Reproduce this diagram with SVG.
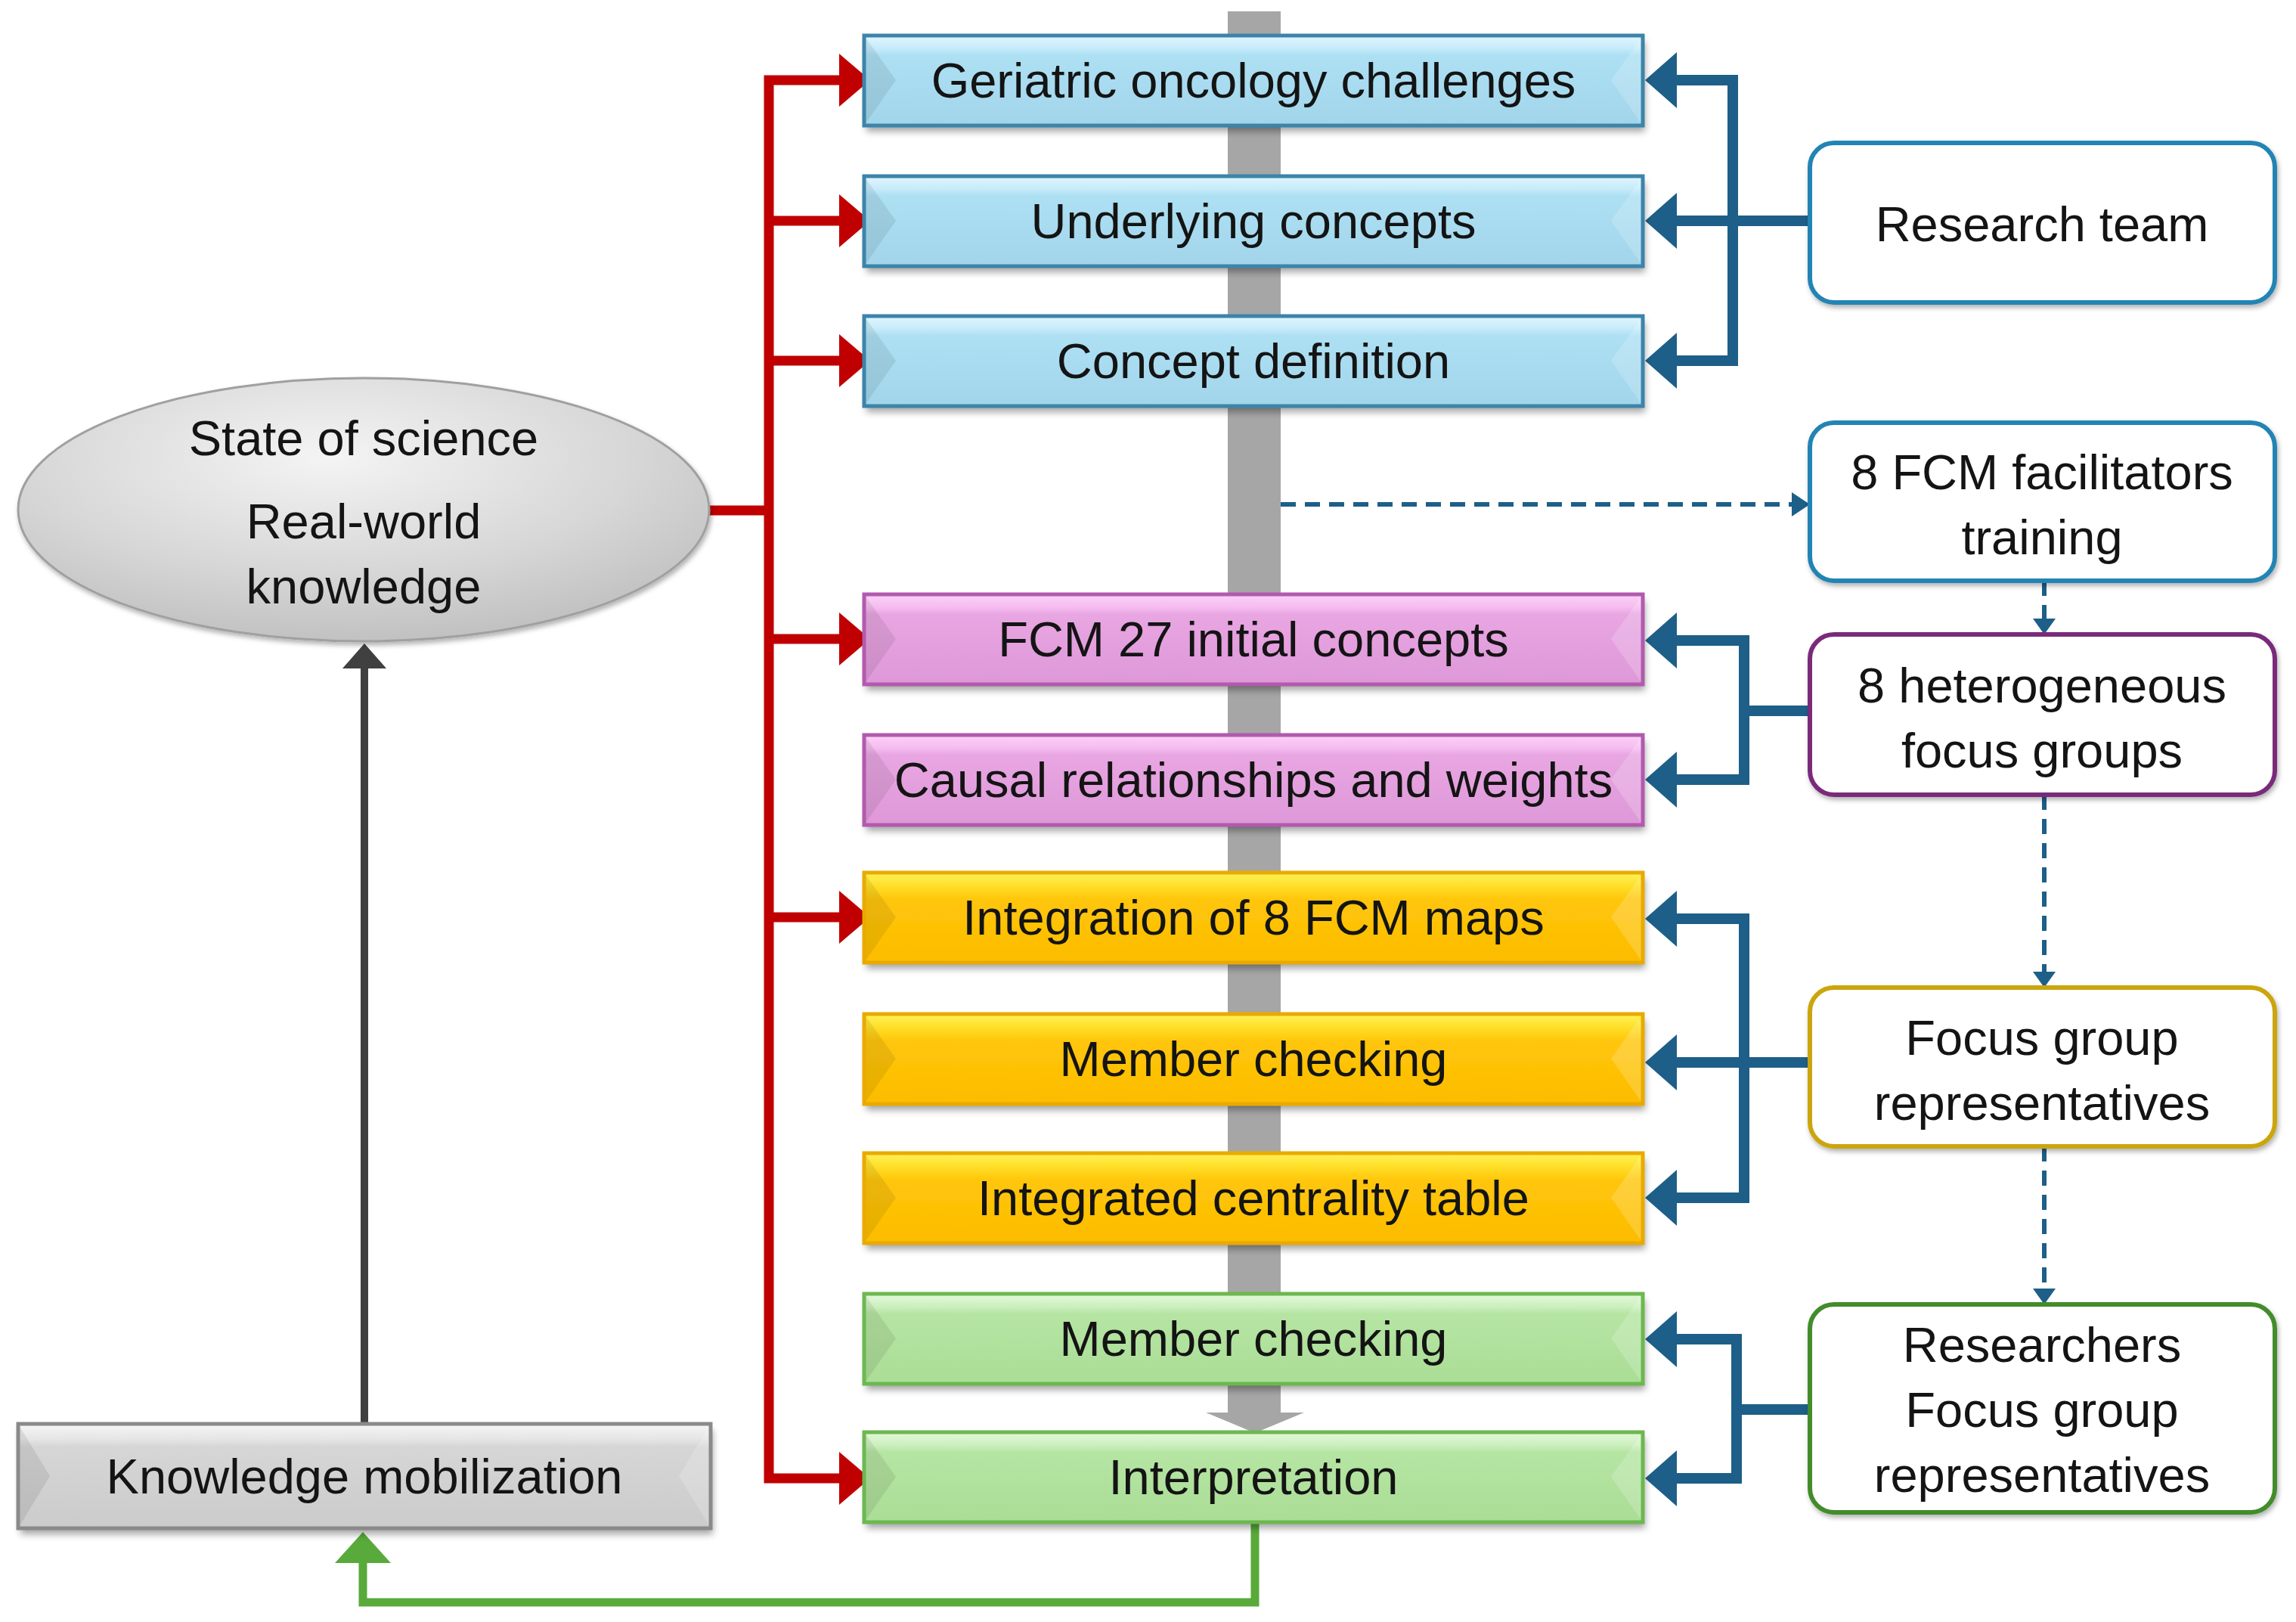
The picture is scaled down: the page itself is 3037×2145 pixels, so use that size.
<svg xmlns="http://www.w3.org/2000/svg" width="3037" height="2145" viewBox="0 0 3037 2145">
<defs>
<style>
text{font-family:"Liberation Sans",Arial,sans-serif;font-size:65px;fill:#141414;text-anchor:middle}
.edge{fill:none;stroke-width:5}
.lb{fill:#000;fill-opacity:.08}
.rb{fill:#fff;fill-opacity:.18}
.blue .body{fill:url(#gBlue)} .blue .edge{stroke:#3c84aa}
.pink .body{fill:url(#gPink)} .pink .edge{stroke:#b25aae}
.yel .body{fill:url(#gYel)} .yel .edge{stroke:#e9aa00}
.grn .body{fill:url(#gGrn)} .grn .edge{stroke:#6cb850}
.gry .body{fill:url(#gGry)} .gry .edge{stroke:#8a8a8a}
.rbox{fill:#fff;stroke-width:6}
.red{fill:none;stroke:#c00000;stroke-width:13}
.redh{fill:#c00000}
.teal{fill:none;stroke:#1d5f88;stroke-width:14}
.tealh{fill:#1d5f88}
.dash{fill:none;stroke:#1d5f88;stroke-width:6;stroke-dasharray:20 12}
</style>
<linearGradient id="gBlue" x1="0" y1="0" x2="0" y2="1">
<stop offset="0" stop-color="#e2f6fe"/><stop offset=".14" stop-color="#c6ebfa"/><stop offset=".22" stop-color="#ade0f3"/><stop offset="1" stop-color="#a2d5ea"/></linearGradient>
<linearGradient id="gPink" x1="0" y1="0" x2="0" y2="1">
<stop offset="0" stop-color="#fbd2f8"/><stop offset=".14" stop-color="#f6bdf0"/><stop offset=".22" stop-color="#e8a6e2"/><stop offset="1" stop-color="#de98d8"/></linearGradient>
<linearGradient id="gYel" x1="0" y1="0" x2="0" y2="1">
<stop offset="0" stop-color="#fff25a"/><stop offset=".14" stop-color="#ffe02a"/><stop offset=".3" stop-color="#ffc60a"/><stop offset="1" stop-color="#fcbc00"/></linearGradient>
<linearGradient id="gGrn" x1="0" y1="0" x2="0" y2="1">
<stop offset="0" stop-color="#e4f8da"/><stop offset=".14" stop-color="#cdf0bf"/><stop offset=".22" stop-color="#b6e5a3"/><stop offset="1" stop-color="#aadd96"/></linearGradient>
<linearGradient id="gGry" x1="0" y1="0" x2="0" y2="1">
<stop offset="0" stop-color="#f6f6f6"/><stop offset=".14" stop-color="#e6e6e6"/><stop offset=".22" stop-color="#d6d6d6"/><stop offset="1" stop-color="#cbcbcb"/></linearGradient>
<radialGradient id="gEll" cx=".45" cy=".3" r=".75">
<stop offset="0" stop-color="#f4f4f4"/><stop offset=".6" stop-color="#d6d6d6"/><stop offset="1" stop-color="#bdbdbd"/></radialGradient>
<filter id="sh" x="-5%" y="-20%" width="110%" height="150%">
<feDropShadow dx="3" dy="8" stdDeviation="5" flood-color="#000" flood-opacity=".35"/></filter>
<filter id="sh2" x="-5%" y="-10%" width="110%" height="130%">
<feDropShadow dx="2" dy="4" stdDeviation="3" flood-color="#000" flood-opacity=".3"/></filter>
</defs>
<rect width="3037" height="2145" fill="#fff"/>

<g id="spine">
<rect x="1624" y="15" width="70" height="1853" fill="#a6a6a6"/>
<polygon points="1595,1868 1725,1868 1660,1895" fill="#a6a6a6"/>
</g>

<g id="connectors">
<path class="red" d="M1112,106 H1017 V1955 H1112 M1017,292 H1112 M1017,477 H1112 M1017,845 H1112 M1017,1213 H1112 M938,675 H1017"/>
<polygon class="redh" points="1110,71 1151,106 1110,141"/>
<polygon class="redh" points="1110,257 1151,292 1110,327"/>
<polygon class="redh" points="1110,442 1151,477 1110,512"/>
<polygon class="redh" points="1110,810 1151,845 1110,880"/>
<polygon class="redh" points="1110,1178 1151,1213 1110,1248"/>
<polygon class="redh" points="1110,1920 1151,1955 1110,1990"/>

<path class="teal" d="M2215,106 H2292 V477 H2215 M2215,292 H2394"/>
<polygon class="tealh" points="2218,69 2176,106 2218,143"/>
<polygon class="tealh" points="2218,255 2176,292 2218,329"/>
<polygon class="tealh" points="2218,440 2176,477 2218,514"/>

<path class="teal" d="M2215,847 H2307 V1031 H2215 M2307,940 H2394"/>
<polygon class="tealh" points="2218,810 2176,847 2218,884"/>
<polygon class="tealh" points="2218,994 2176,1031 2218,1068"/>

<path class="teal" d="M2215,1215 H2307 V1584 H2215 M2215,1405 H2394"/>
<polygon class="tealh" points="2218,1178 2176,1215 2218,1252"/>
<polygon class="tealh" points="2218,1368 2176,1405 2218,1442"/>
<polygon class="tealh" points="2218,1547 2176,1584 2218,1621"/>

<path class="teal" d="M2215,1771 H2297 V1955 H2215 M2297,1864 H2394"/>
<polygon class="tealh" points="2218,1734 2176,1771 2218,1808"/>
<polygon class="tealh" points="2218,1918 2176,1955 2218,1992"/>

<path class="dash" d="M1694,667 H2372"/>
<polygon class="tealh" points="2370,651 2394,667 2370,683"/>
<path class="dash" d="M2704,768 V820"/>
<polygon class="tealh" points="2689,818 2719,818 2704,839"/>
<path class="dash" d="M2704,1051 V1287"/>
<polygon class="tealh" points="2689,1285 2719,1285 2704,1306"/>
<path class="dash" d="M2704,1516 V1706"/>
<polygon class="tealh" points="2689,1704 2719,1704 2704,1725"/>

<path d="M482,1883 V878" fill="none" stroke="#404040" stroke-width="10"/>
<polygon points="453,884 482,851 511,884" fill="#404040"/>

<path d="M1660,2012 V2119 H480 V2064" fill="none" stroke="#58aa3a" stroke-width="11"/>
<polygon points="443,2067 480,2026 517,2067" fill="#58aa3a"/>
</g>

<g id="n-state">
<ellipse cx="481" cy="674" rx="457" ry="174" fill="url(#gEll)" stroke="#a0a0a0" stroke-width="3" filter="url(#sh2)"/>
<text x="481" y="602">State of science</text>
<text x="481" y="712">Real-world</text>
<text x="481" y="798">knowledge</text>
</g>

<g id="n-km" class="gry">
<rect class="body" x="24" y="1883" width="916" height="138" filter="url(#sh)"/>
<polygon class="lb" points="24,1883 66,1952 24,2021"/>
<polygon class="rb" points="940,1883 898,1952 940,2021"/>
<rect class="edge" x="24" y="1883" width="916" height="138"/>
<text x="482" y="1975">Knowledge mobilization</text>
</g>

<g id="n1" class="blue">
<rect class="body" x="1143" y="47" width="1030" height="119" filter="url(#sh)"/>
<polygon class="lb" points="1143,47 1185,106 1143,166"/>
<polygon class="rb" points="2173,47 2131,106 2173,166"/>
<rect class="edge" x="1143" y="47" width="1030" height="119"/>
<text x="1658" y="129">Geriatric oncology challenges</text>
</g>
<g id="n2" class="blue">
<rect class="body" x="1143" y="233" width="1030" height="119" filter="url(#sh)"/>
<polygon class="lb" points="1143,233 1185,292 1143,352"/>
<polygon class="rb" points="2173,233 2131,292 2173,352"/>
<rect class="edge" x="1143" y="233" width="1030" height="119"/>
<text x="1658" y="315">Underlying concepts</text>
</g>
<g id="n3" class="blue">
<rect class="body" x="1143" y="418" width="1030" height="119" filter="url(#sh)"/>
<polygon class="lb" points="1143,418 1185,477 1143,537"/>
<polygon class="rb" points="2173,418 2131,477 2173,537"/>
<rect class="edge" x="1143" y="418" width="1030" height="119"/>
<text x="1658" y="500">Concept definition</text>
</g>
<g id="n4" class="pink">
<rect class="body" x="1143" y="786" width="1030" height="119" filter="url(#sh)"/>
<polygon class="lb" points="1143,786 1185,845 1143,905"/>
<polygon class="rb" points="2173,786 2131,845 2173,905"/>
<rect class="edge" x="1143" y="786" width="1030" height="119"/>
<text x="1658" y="868">FCM 27 initial concepts</text>
</g>
<g id="n5" class="pink">
<rect class="body" x="1143" y="972" width="1030" height="119" filter="url(#sh)"/>
<polygon class="lb" points="1143,972 1185,1031 1143,1091"/>
<polygon class="rb" points="2173,972 2131,1031 2173,1091"/>
<rect class="edge" x="1143" y="972" width="1030" height="119"/>
<text x="1658" y="1054">Causal relationships and weights</text>
</g>
<g id="n6" class="yel">
<rect class="body" x="1143" y="1154" width="1030" height="119" filter="url(#sh)"/>
<polygon class="lb" points="1143,1154 1185,1213 1143,1273"/>
<polygon class="rb" points="2173,1154 2131,1213 2173,1273"/>
<rect class="edge" x="1143" y="1154" width="1030" height="119"/>
<text x="1658" y="1236">Integration of 8 FCM maps</text>
</g>
<g id="n7" class="yel">
<rect class="body" x="1143" y="1341" width="1030" height="119" filter="url(#sh)"/>
<polygon class="lb" points="1143,1341 1185,1400 1143,1460"/>
<polygon class="rb" points="2173,1341 2131,1400 2173,1460"/>
<rect class="edge" x="1143" y="1341" width="1030" height="119"/>
<text x="1658" y="1423">Member checking</text>
</g>
<g id="n8" class="yel">
<rect class="body" x="1143" y="1525" width="1030" height="119" filter="url(#sh)"/>
<polygon class="lb" points="1143,1525 1185,1584 1143,1644"/>
<polygon class="rb" points="2173,1525 2131,1584 2173,1644"/>
<rect class="edge" x="1143" y="1525" width="1030" height="119"/>
<text x="1658" y="1607">Integrated centrality table</text>
</g>
<g id="n9" class="grn">
<rect class="body" x="1143" y="1711" width="1030" height="119" filter="url(#sh)"/>
<polygon class="lb" points="1143,1711 1185,1770 1143,1830"/>
<polygon class="rb" points="2173,1711 2131,1770 2173,1830"/>
<rect class="edge" x="1143" y="1711" width="1030" height="119"/>
<text x="1658" y="1793">Member checking</text>
</g>
<g id="n10" class="grn">
<rect class="body" x="1143" y="1894" width="1030" height="119" filter="url(#sh)"/>
<polygon class="lb" points="1143,1894 1185,1953 1143,2013"/>
<polygon class="rb" points="2173,1894 2131,1953 2173,2013"/>
<rect class="edge" x="1143" y="1894" width="1030" height="119"/>
<text x="1658" y="1976">Interpretation</text>
</g>

<g id="r-team">
<rect class="rbox" x="2394" y="189" width="615" height="211" rx="32" stroke="#2384b4" filter="url(#sh2)"/>
<text x="2701" y="319">Research team</text>
</g>
<g id="r-train">
<rect class="rbox" x="2394" y="559" width="615" height="209" rx="32" stroke="#2384b4" filter="url(#sh2)"/>
<text x="2701" y="647">8 FCM facilitators</text>
<text x="2701" y="733">training</text>
</g>
<g id="r-fg">
<rect class="rbox" x="2394" y="839" width="615" height="212" rx="32" stroke="#7a2a7a" filter="url(#sh2)"/>
<text x="2701" y="929">8 heterogeneous</text>
<text x="2701" y="1015">focus groups</text>
</g>
<g id="r-rep">
<rect class="rbox" x="2394" y="1306" width="615" height="210" rx="32" stroke="#cba50c" filter="url(#sh2)"/>
<text x="2701" y="1395">Focus group</text>
<text x="2701" y="1481">representatives</text>
</g>
<g id="r-res">
<rect class="rbox" x="2394" y="1725" width="615" height="275" rx="32" stroke="#428c2c" filter="url(#sh2)"/>
<text x="2701" y="1801">Researchers</text>
<text x="2701" y="1887">Focus group</text>
<text x="2701" y="1973">representatives</text>
</g>
</svg>
